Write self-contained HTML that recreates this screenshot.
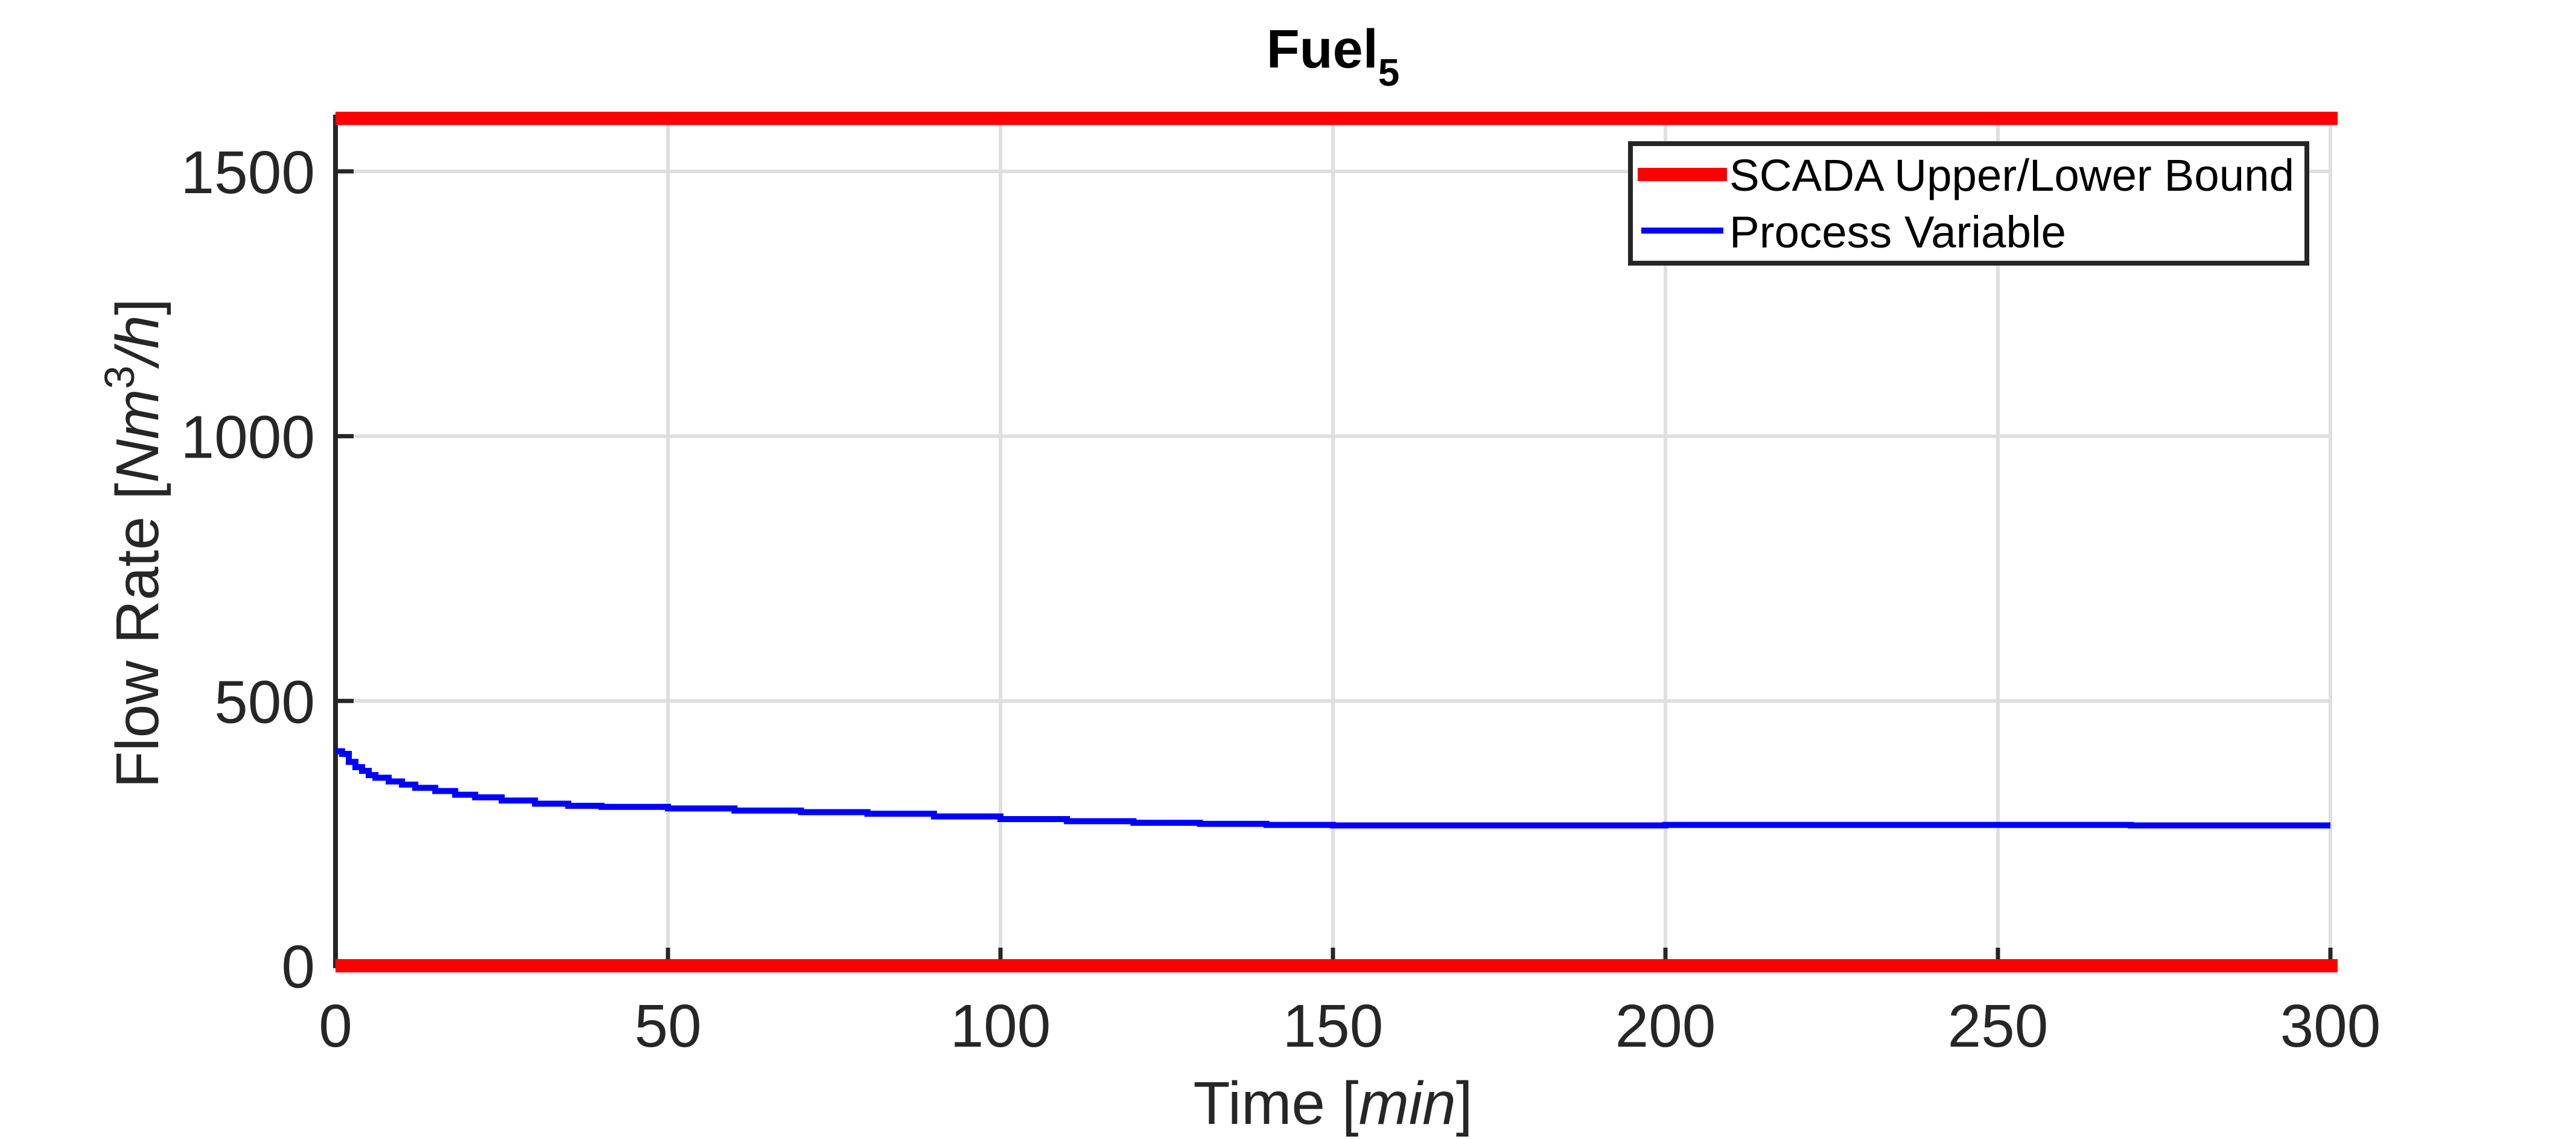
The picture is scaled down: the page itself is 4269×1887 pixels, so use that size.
<!DOCTYPE html>
<html><head><meta charset="utf-8"><style>html,body{margin:0;padding:0;background:#fff}svg{display:block}</style></head>
<body>
<svg width="4269" height="1887" viewBox="0 0 4269 1887" xmlns="http://www.w3.org/2000/svg" font-family="Liberation Sans, Arial, sans-serif">
<g id="grid"></g>
<g id="axes"></g>
<g id="series"></g>
<text x="2209" y="112" text-anchor="middle" font-size="90" font-weight="bold" fill="#000">Fuel<tspan font-size="64" dy="30">5</tspan></text>
<text x="2209" y="1862" text-anchor="middle" font-size="100" fill="#262626">Time [<tspan font-style="italic">min</tspan>]</text>
<text transform="translate(262,900) rotate(-90)" text-anchor="middle" font-size="100" fill="#262626">Flow Rate [<tspan font-style="italic">Nm</tspan><tspan font-size="70" dy="-40">3</tspan><tspan font-style="italic" dy="40">/h</tspan>]</text>
<g>
<rect x="2702" y="238" width="1121" height="198" fill="#fff" stroke="#262626" stroke-width="8"/>
<line x1="2714" y1="289" x2="2862" y2="289" stroke="#ff0000" stroke-width="22"/>
<text x="2866" y="316" font-size="74" fill="#000" textLength="936" lengthAdjust="spacingAndGlyphs">SCADA Upper/Lower Bound</text>
<line x1="2720" y1="382" x2="2856" y2="382" stroke="#0000ff" stroke-width="10"/>
<text x="2866" y="410" font-size="74" fill="#000" textLength="558" lengthAdjust="spacingAndGlyphs">Process Variable</text>
</g>
<script>
const xTicks = [0, 50, 100, 150, 200, 250, 300];
const yTicks = [0, 500, 1000, 1500];
const boundValues = [0, 1600];
const pvTimes = [0,1,2,3,4,5,6,8,10,12,15,18,21,25,30,35,40,50,60,70,80,90,100,110,120,130,140,150,200,250,270,300];
const pvValues = [405,400,385,375,368,360,355,348,342,336,330,323,318,312,306,302,300,297,293,290,287,282,277,273,270,268,266,265,266,266,265,265];
const X0=556, X1=3862, Y0=1600, YPER=438.7/500;
const sx = t => X0 + (t-0)/(300-0)*(X1-X0);
const sy = v => Y0 - v*YPER;
const NS="http://www.w3.org/2000/svg";
function mk(tag, attrs, parent){const e=document.createElementNS(NS,tag);for(const k in attrs)e.setAttribute(k,attrs[k]);parent.appendChild(e);return e;}
const grid=document.getElementById('grid'), axes=document.getElementById('axes'), series=document.getElementById('series');
xTicks.forEach(t=>{
  const g=mk('line',{x1:sx(t),x2:sx(t),y1:sy(1610),y2:Y0,stroke:'#dfdfdf','stroke-width':6},grid);
  
  
  const tk=mk('line',{x1:sx(t),x2:sx(t),y1:Y0,y2:Y0-30,stroke:'#262626','stroke-width':7},axes);
  
  
  const lb=mk('text',{x:sx(t),y:1734,'text-anchor':'middle','font-size':100,fill:'#262626'},axes);
  lb.textContent=t;
  
  
});
yTicks.forEach(v=>{
  const g=mk('line',{x1:X0,x2:X1,y1:sy(v),y2:sy(v),stroke:'#dfdfdf','stroke-width':6},grid);
  
  
  const tk=mk('line',{x1:X0,x2:X0+30,y1:sy(v),y2:sy(v),stroke:'#262626','stroke-width':7},axes);
  
  
  const lb=mk('text',{x:522,y:sy(v)+36,'text-anchor':'end','font-size':100,fill:'#262626'},axes);
  lb.textContent=v;
  
  
});
const ax=mk('line',{x1:X0,x2:X0,y1:190,y2:Y0+4,stroke:'#262626','stroke-width':8},axes);


const bx=mk('line',{x1:X0-4,x2:X1,y1:Y0,y2:Y0,stroke:'#262626','stroke-width':8},axes);


// process variable stairs
let d='';
pvTimes.forEach((t,i)=>{
  if(i===0) d+='M'+sx(t)+','+sy(pvValues[i]);
  else d+=' H'+sx(t)+' V'+sy(pvValues[i]);
});
const pv=mk('path',{d:d,fill:'none',stroke:'#0000ff','stroke-width':10},series);


boundValues.forEach(v=>{
  const b=mk('line',{x1:X0,x2:X1+12,y1:sy(v),y2:sy(v),stroke:'#ff0000','stroke-width':22},series);
  
  
});
</script>
</svg>
</body></html>
